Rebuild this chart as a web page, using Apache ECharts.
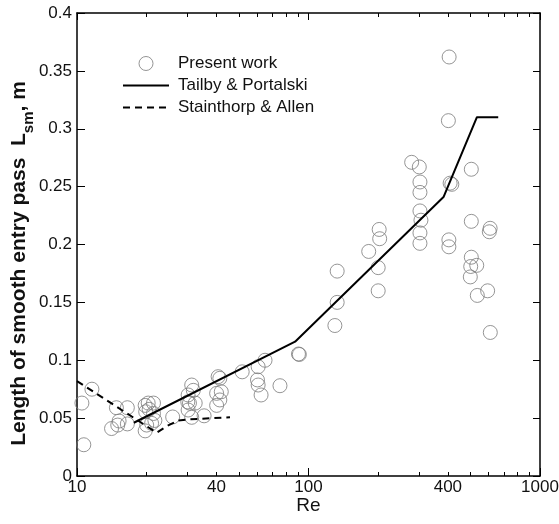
<!DOCTYPE html>
<html>
<head>
<meta charset="utf-8">
<script src="https://cdn.jsdelivr.net/npm/echarts@6/dist/echarts.min.js"></script>
<style>
html, body { margin: 0; padding: 0; background: #fff; }
#main { width: 559px; height: 524px; }
</style>
</head>
<body>
<div id="main"></div>
<script>
// Present work (Re, Lsm)
var workRe = [10.5, 10.7, 11.6, 14.1, 15.0, 15.2, 14.8, 16.5, 16.5, 19.7, 20.3, 21.4, 19.8, 20.5, 21.4, 21.7, 20.0, 21.0, 19.7,
	25.9, 31.3, 31.8, 30.2, 30.1, 30.6, 30.2, 31.3, 32.4, 35.4, 40.1, 40.7, 41.4, 40.1, 41.4, 42.0,
	51.7, 64.9, 60.6, 60.2, 60.6, 62.4, 75.3, 90.5, 91.3, 130, 133, 133, 182, 200, 200, 202, 203,
	279, 301, 303, 303, 303, 306, 303, 303, 402, 405, 409, 416, 404, 404, 505, 505, 609, 604,
	505, 502, 533, 500, 536, 594, 610];
var workL = [0.063, 0.027, 0.075, 0.041, 0.044, 0.0475, 0.059, 0.059, 0.045, 0.061, 0.063, 0.063, 0.0555, 0.0576, 0.054, 0.048, 0.044, 0.0455, 0.039,
	0.051, 0.0786, 0.074, 0.070, 0.064, 0.063, 0.057, 0.0507, 0.063, 0.052, 0.061, 0.0858, 0.0844, 0.0714, 0.0657, 0.0728,
	0.090, 0.100, 0.0944, 0.083, 0.0786, 0.070, 0.078, 0.1054, 0.105, 0.130, 0.150, 0.177, 0.194, 0.180, 0.160, 0.213, 0.205,
	0.271, 0.267, 0.254, 0.245, 0.229, 0.221, 0.210, 0.201, 0.307, 0.362, 0.253, 0.252, 0.204, 0.198, 0.265, 0.220, 0.214, 0.211,
	0.189, 0.181, 0.182, 0.172, 0.156, 0.160, 0.124];

// Tailby & Portalski
var tailbyRe = [17.6, 87.5, 383, 534, 660];
var tailbyL = [0.046, 0.116, 0.241, 0.310, 0.310];

// Stainthorp & Allen
var stainRe = [10, 22.1, 24.4, 27.4, 30.8, 45.8];
var stainL = [0.082, 0.0374, 0.043, 0.048, 0.049, 0.0507];

// axis ticks
var xLabels = [10, 40, 100, 400, 1000];
var xMajor = [10, 100, 1000];
var xMinor = [20, 30, 40, 50, 60, 70, 80, 90, 200, 300, 400, 500, 600, 700, 800, 900];

function pairs(xs, ys) {
	var out = [];
	for (var i = 0; i < xs.length; i++) {
		out.push([xs[i], ys[i]]);
	}
	return out;
}

var FONT = '"Liberation Sans", Arial, sans-serif';

function logAxis(pos, ticks, len, showLine, labels) {
	return {
		type : 'log',
		logBase : 10,
		min : 10,
		max : 1000,
		position : pos,
		axisLine : {
			show : showLine,
			onZero : false,
			lineStyle : {color : '#000', width : 1.5}
		},
		axisTick : {
			show : true,
			inside : true,
			length : len,
			customValues : ticks,
			lineStyle : {color : '#000', width : 1}
		},
		axisLabel : labels ? {
			show : true,
			customValues : labels,
			color : '#111',
			fontSize : 17,
			fontFamily : FONT,
			margin : 3,
			formatter : function(v) {
				return String(Math.round(v));
			}
		} : {show : false},
		splitLine : {show : false}
	};
}

var myChart = echarts.init(document.getElementById('main'));

var xMain = logAxis('bottom', xMajor, 8, true, xLabels);
xMain.name = 'Re';
xMain.nameLocation = 'middle';
xMain.nameGap = 30;
xMain.nameMoveOverlap = false;
xMain.nameTextStyle = {color : '#111', fontSize : 19, fontFamily : FONT, verticalAlign : 'middle'};

var option = {
	backgroundColor : '#FFFFFF',
	animation : false,
	grid : {left : 77, right : 19, top : 13, bottom : 48, outerBoundsMode : 'none', containLabel : false},
	legend : {
		orient : 'vertical',
		left : 117,
		top : 50,
		itemWidth : 46,
		itemHeight : 14,
		itemGap : 5,
		textStyle : {color : '#111', fontSize : 17, fontFamily : FONT, padding : [0, 0, 0, 4]},
		data : [
			{name : 'Present work', itemStyle : {borderWidth : 1}},
			{name : 'Tailby & Portalski', itemStyle : {opacity : 0}},
			{name : 'Stainthorp & Allen', itemStyle : {opacity : 0}}
		]
	},
	xAxis : [
		xMain,
		logAxis('bottom', xMinor, 4, false, null),
		logAxis('top', xMajor, 7, true, null),
		logAxis('top', xMinor, 4, false, null)
	],
	yAxis : [{
		type : 'value',
		min : 0,
		max : 0.4,
		interval : 0.05,
		position : 'left',
		axisLine : {show : true, onZero : false, lineStyle : {color : '#000', width : 1.5}},
		axisTick : {show : true, inside : true, length : 8, lineStyle : {color : '#000'}},
		axisLabel : {color : '#111', fontSize : 17, fontFamily : FONT, margin : 5},
		splitLine : {show : false},
		name : '{a|Length of smooth entry pass  L}{s|sm}{a|, m}',
		nameLocation : 'middle',
		nameGap : 41,
		nameMoveOverlap : false,
		nameTextStyle : {
			padding : [0, 38, 0, 0],
			rich : {
				a : {fontSize : 21, fontWeight : 'bold', color : '#111', fontFamily : FONT, lineHeight : 24},
				s : {fontSize : 15, fontWeight : 'bold', color : '#111', fontFamily : FONT, lineHeight : 34, verticalAlign : 'bottom'}
			}
		}
	}, {
		type : 'value',
		min : 0,
		max : 0.4,
		interval : 0.05,
		position : 'right',
		axisLine : {show : true, onZero : false, lineStyle : {color : '#000', width : 1.5}},
		axisTick : {show : true, inside : true, length : 7, lineStyle : {color : '#000'}},
		axisLabel : {show : false},
		splitLine : {show : false}
	}],
	series : [{
		name : 'Present work',
		type : 'scatter',
		symbol : 'circle',
		symbolSize : 14,
		itemStyle : {color : 'rgba(255,255,255,0)', borderColor : '#7a7a7a', borderWidth : 1},
		data : pairs(workRe, workL),
		z : 3
	}, {
		name : 'Tailby & Portalski',
		type : 'line',
		symbol : 'none',
		lineStyle : {color : '#000', width : 2},
		itemStyle : {color : '#000'},
		data : pairs(tailbyRe, tailbyL),
		z : 4
	}, {
		name : 'Stainthorp & Allen',
		type : 'line',
		symbol : 'none',
		lineStyle : {color : '#000', width : 2, type : [7, 5]},
		itemStyle : {color : '#000'},
		data : pairs(stainRe, stainL),
		z : 4
	}]
};

myChart.setOption(option);
</script>
</body>
</html>
